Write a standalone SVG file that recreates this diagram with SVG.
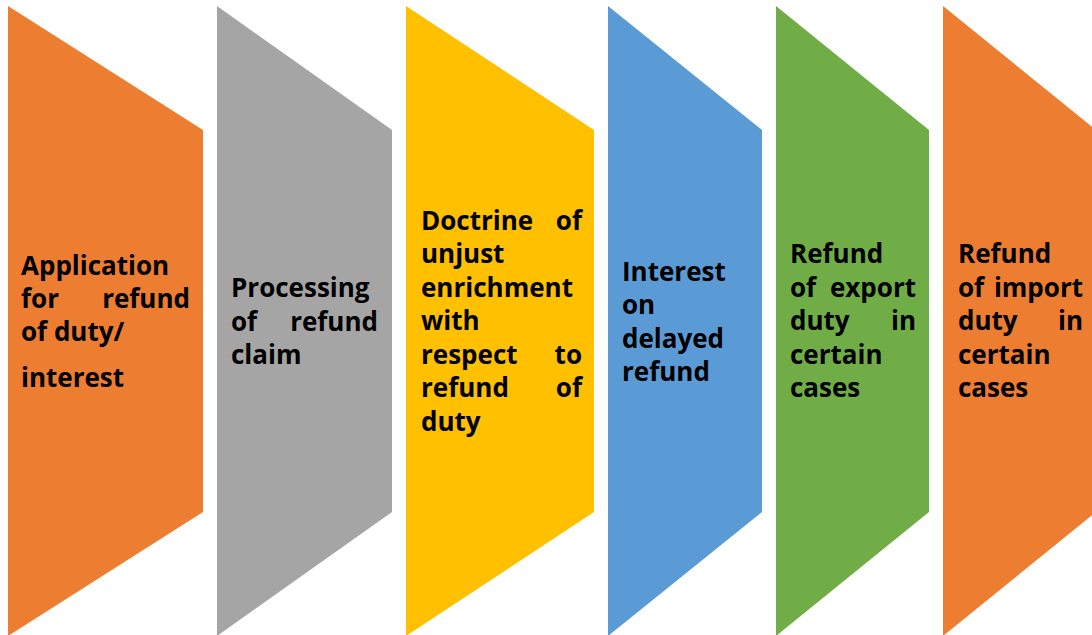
<svg xmlns="http://www.w3.org/2000/svg" width="1092" height="635" viewBox="0 0 1092 635">
<style>
  .t { font-family: "Open Sans", "Noto Sans", "Liberation Sans", sans-serif; font-weight: 700; font-size: 26px; fill: #000; }
  .e { text-anchor: end; }
</style>
<rect width="1092" height="635" fill="#ffffff"/>
<g id="node1">
  <polygon points="8,6 203,130 203,512 8,636" fill="#ED7D31"/>
  <text class="t" x="21" y="275">Application</text>
  <text class="t" x="21" y="308">for</text><text class="t e" x="190" y="308">refund</text>
  <text class="t" x="21" y="341">of duty/</text>
  <text class="t" x="21" y="387">interest</text>
</g>
<g id="node2">
  <polygon points="217,6 392,130 392,512 217,636" fill="#A5A5A5"/>
  <text class="t" x="231" y="297">Processing</text>
  <text class="t" x="231" y="331">of</text><text class="t e" x="378" y="331">refund</text>
  <text class="t" x="231" y="364">claim</text>
</g>
<g id="node3">
  <polygon points="406,6 594,130 594,512 406,636" fill="#FFC000"/>
  <text class="t" x="421" y="230">Doctrine</text><text class="t e" x="582" y="230">of</text>
  <text class="t" x="421" y="263">unjust</text>
  <text class="t" x="421" y="297">enrichment</text>
  <text class="t" x="421" y="330">with</text>
  <text class="t" x="421" y="364">respect</text><text class="t e" x="582" y="364">to</text>
  <text class="t" x="421" y="397">refund</text><text class="t e" x="582" y="397">of</text>
  <text class="t" x="421" y="431">duty</text>
</g>
<g id="node4">
  <polygon points="608,6 762,130 762,512 608,636" fill="#5B9BD5"/>
  <text class="t" x="622" y="281">Interest</text>
  <text class="t" x="622" y="314">on</text>
  <text class="t" x="622" y="348">delayed</text>
  <text class="t" x="622" y="381">refund</text>
</g>
<g id="node5">
  <polygon points="776,6 929,130 929,512 776,636" fill="#70AD47"/>
  <text class="t" x="790" y="263">Refund</text>
  <text class="t" x="790" y="297">of</text><text class="t e" x="916" y="297">export</text>
  <text class="t" x="790" y="330">duty</text><text class="t e" x="916" y="330">in</text>
  <text class="t" x="790" y="364">certain</text>
  <text class="t" x="790" y="397">cases</text>
</g>
<g id="node6">
  <polygon points="943,6 1096,130 1096,512 943,636" fill="#ED7D31"/>
  <text class="t" x="958" y="263">Refund</text>
  <text class="t" x="958" y="297">of</text><text class="t e" x="1083" y="297">import</text>
  <text class="t" x="958" y="330">duty</text><text class="t e" x="1083" y="330">in</text>
  <text class="t" x="958" y="364">certain</text>
  <text class="t" x="958" y="397">cases</text>
</g>
<g id="connectors"></g>
</svg>
